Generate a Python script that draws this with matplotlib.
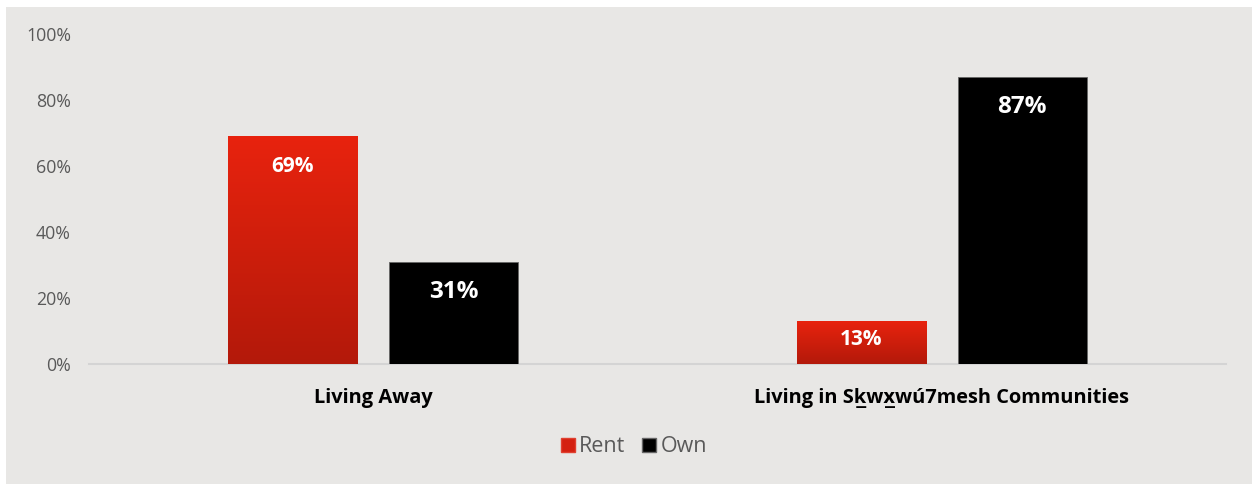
import numpy as np
import matplotlib
matplotlib.use("Agg")
import matplotlib.pyplot as plt
from matplotlib.colors import LinearSegmentedColormap
from matplotlib.patches import Rectangle

plt.rcParams['font.family'] = ['Open Sans', 'DejaVu Sans']

categories = ["Living Away", "Living in Sk\u0332wx\u0332wú7mesh Communities"]
series_names = ["Rent", "Own"]
rent = [69, 13]
own = [31, 87]
yticks = [0, 20, 40, 60, 80, 100]

BG = "#E8E7E5"
TXT = "#595959"
red_grad = LinearSegmentedColormap.from_list("redgrad", ["#B3190A", "#E8230E"])

fig = plt.figure(figsize=(12.52, 4.84), dpi=100, facecolor="white")
fig.patches.append(Rectangle((6 / 1252, 0), 1 - 6 / 1252, 1 - 7 / 484,
                             transform=fig.transFigure, facecolor=BG,
                             edgecolor="none", zorder=-10))

ax = fig.add_axes([89 / 1252, 1 - 364 / 484, (1226 - 89) / 1252, 330 / 484])
ax.patch.set_alpha(0)

x = np.arange(len(categories))
width = 0.227
offset = 0.1415

rent_bars = ax.bar(x - offset, rent, width, color="#D42010", edgecolor="#E04030",
                   linewidth=0.6, zorder=2, label=series_names[0])
own_bars = ax.bar(x + offset, own, width, color="black", edgecolor="#666666",
                  linewidth=0.6, zorder=2, label=series_names[1])

# vertical gradient fill for the red bars
grad = np.linspace(0, 1, 256).reshape(-1, 1)
for b in rent_bars:
    x0, y0 = b.get_x(), b.get_y()
    w, h = b.get_width(), b.get_height()
    im = ax.imshow(grad, cmap=red_grad, origin="lower", aspect="auto",
                   extent=[x0, x0 + w, y0, y0 + h], zorder=2.5)
    im.set_clip_path(b)

ax.set_xlim(-0.5, 1.5)
ax.set_ylim(0, 100)

# value labels inside the top of each bar
for bars, vals, fs in ((rent_bars, rent, 15), (own_bars, own, 17.5)):
    for b, v in zip(bars, vals):
        ypos = max(v - 9.2, v * 0.58)
        ax.text(b.get_x() + b.get_width() / 2, ypos, f"{v}%", ha="center",
                va="center", color="white", fontsize=fs, fontweight="bold",
                zorder=4)

ax.set_yticks(yticks)
ax.set_yticklabels([f"{t}%" for t in yticks], color=TXT, fontsize=12.8)
ax.set_xticks(x)
ax.set_xticklabels(categories, fontsize=14.4, fontweight="bold", color="black")
ax.tick_params(axis="y", length=0, pad=13)
ax.tick_params(axis="x", length=0, pad=17)

for s in ("top", "right", "left"):
    ax.spines[s].set_visible(False)
ax.spines["bottom"].set_color("#D4D4D4")
ax.spines["bottom"].set_linewidth(1.5)
ax.spines["bottom"].set_zorder(1)

handles = [Rectangle((0, 0), 1, 1, facecolor="#D42010", edgecolor="#E04030"),
           Rectangle((0, 0), 1, 1, facecolor="black", edgecolor="#666666")]
leg = fig.legend(handles, series_names, loc="center", ncol=2,
                 bbox_to_anchor=(634 / 1252, 1 - 447 / 484), frameon=False,
                 fontsize=15.5, handlelength=0.65, handleheight=0.65,
                 handletextpad=0.2, columnspacing=0.8)
for t in leg.get_texts():
    t.set_color(TXT)

fig.savefig("out.png", dpi=100, facecolor="white")
